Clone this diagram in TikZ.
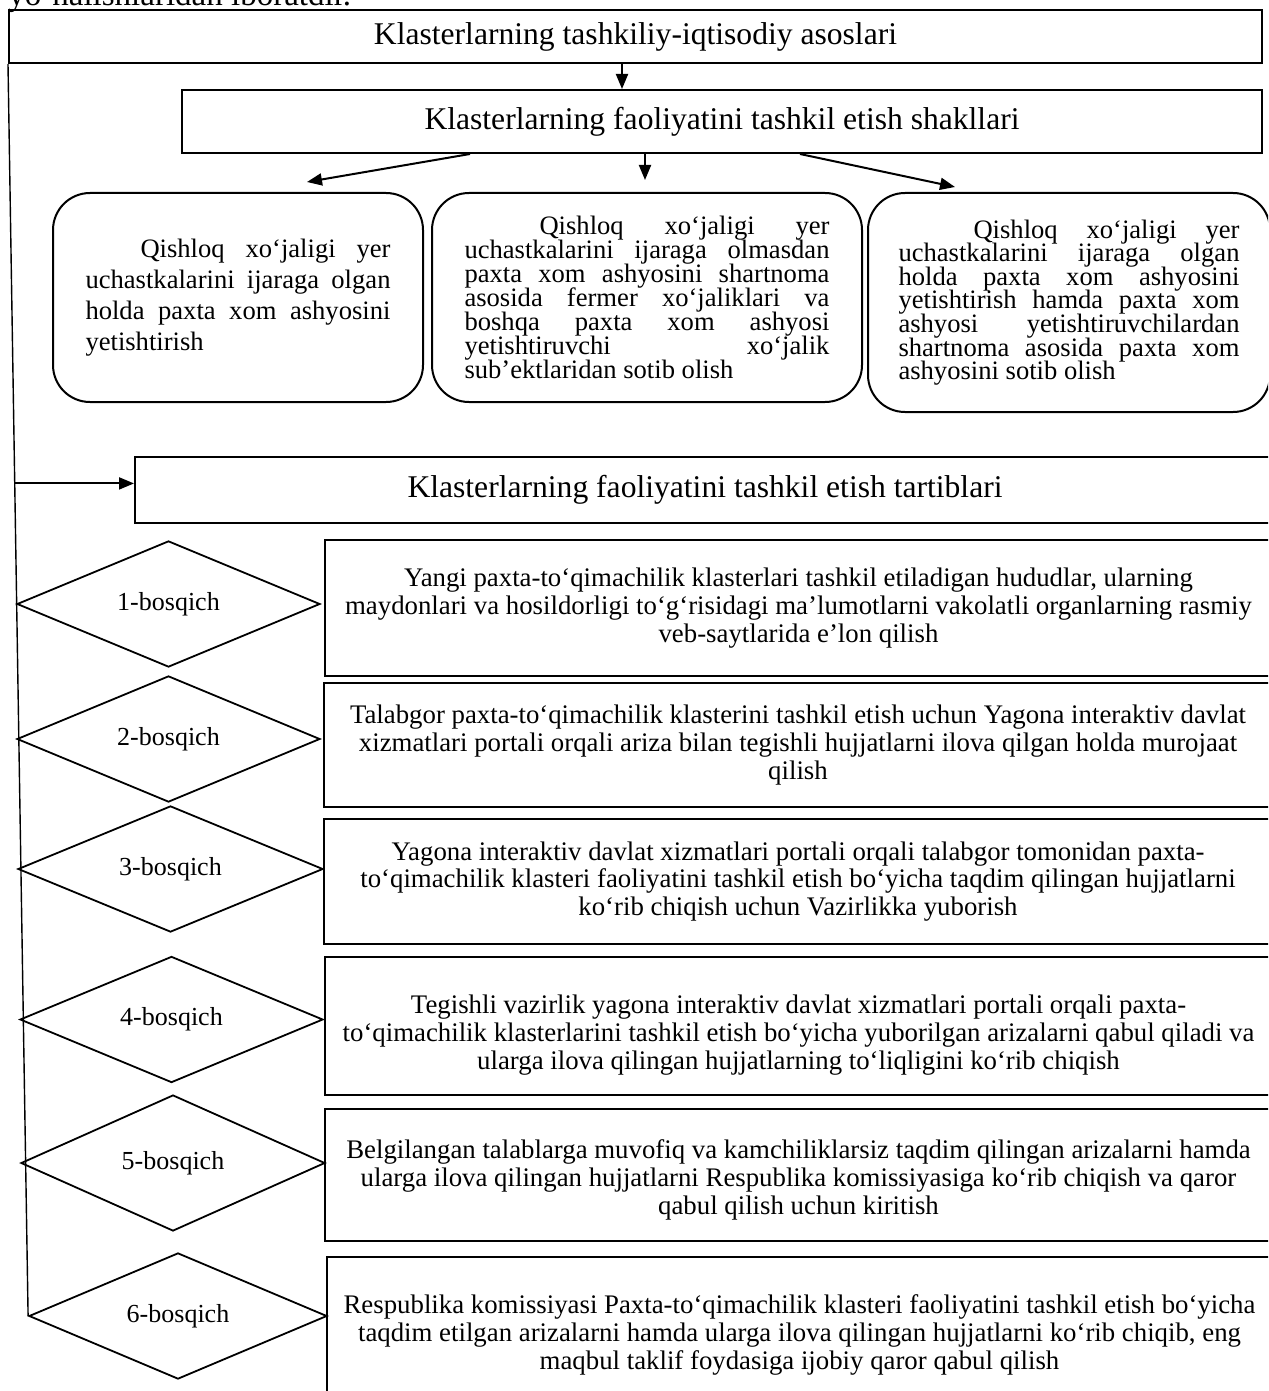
\documentclass[tikz,border=0pt]{standalone}
\usepackage{fontspec}
\setmainfont{Liberation Serif}
\usetikzlibrary{shapes.geometric,arrows.meta,calc}
\newcommand{\JLine}[2]{\makebox[#1][s]{#2}}
\newcommand{\LLine}[2]{\makebox[#1][l]{#2}}
\setlength{\lineskiplimit}{-20pt}
\begin{document}
\begin{tikzpicture}[x=0.5pt,y=-0.5pt,
  bx/.style={draw, line width=1pt, inner sep=0pt},
  hdr/.style={font=\fontsize{15.8}{18}\selectfont},
  steptext/.style={align=center, inner sep=0pt, font=\fontsize{13.4}{13.8}\selectfont},
  stepbox/.style={bx, steptext},
  rbx/.style={bx, rounded corners=18.5pt, align=left},
  dia/.style={draw, shape=diamond, line width=0.9pt, inner sep=0pt, font=\fontsize{13}{15}\selectfont},
  arrw/.style={line width=1pt, -{Triangle[length=7.5pt,width=6pt]}},
  spine/.style={line width=0.7pt}]
\useasboundingbox (0,0) rectangle (1268,1391);
\clip (0,0) rectangle (1268,1391);

\node[anchor=base west, inner sep=0pt, font=\fontsize{16.5}{18}\selectfont] (lead) at (8,6) {yo‘nalishlaridan iboratdir.};

\node[bx, hdr, minimum width=626.5pt, minimum height=26.5pt] (top) at (635.5,36.5) {Klasterlarning tashkiliy-iqtisodiy asoslari};
\node[bx, hdr, minimum width=540pt, minimum height=31.5pt] (shakl) at (722,121.5) {Klasterlarning faoliyatini tashkil etish shakllari};

\node[rbx, minimum width=185pt, minimum height=104.5pt, font=\fontsize{13.3}{15.5}\selectfont] (r1) at (238,297.5) {%
\JLine{152.5pt}{\hspace*{27.5pt}Qishloq xo‘jaligi yer}\\
\JLine{152.5pt}{uchastkalarini ijaraga olgan}\\
\JLine{152.5pt}{holda paxta xom ashyosini}\\
\LLine{152.5pt}{yetishtirish}};

\node[rbx, minimum width=215pt, minimum height=104.5pt, font=\fontsize{13.3}{12}\selectfont] (r2) at (647,297.5) {%
\JLine{182.5pt}{\hspace*{37.5pt}Qishloq xo‘jaligi yer}\\
\JLine{182.5pt}{uchastkalarini ijaraga olmasdan}\\
\JLine{182.5pt}{paxta xom ashyosini shartnoma}\\
\JLine{182.5pt}{asosida fermer xo‘jaliklari va}\\
\JLine{182.5pt}{boshqa paxta xom ashyosi}\\
\JLine{182.5pt}{yetishtiruvchi xo‘jalik}\\
\LLine{182.5pt}{sub’ektlaridan sotib olish}};

\node[rbx, minimum width=201pt, minimum height=109.5pt, font=\fontsize{13.3}{11.8}\selectfont] (r3) at (1069,302.5) {%
\JLine{170.5pt}{\hspace*{37.5pt}Qishloq xo‘jaligi yer}\\
\JLine{170.5pt}{uchastkalarini ijaraga olgan}\\
\JLine{170.5pt}{holda paxta xom ashyosini}\\
\JLine{170.5pt}{yetishtirish hamda paxta xom}\\
\JLine{170.5pt}{ashyosi yetishtiruvchilardan}\\
\JLine{170.5pt}{shartnoma asosida paxta xom}\\
\LLine{170.5pt}{ashyosini sotib olish}};

\node[bx, hdr, minimum width=570pt, minimum height=33pt] (tart) at (705,490) {Klasterlarning faoliyatini tashkil etish tartiblari};

\node[stepbox, minimum width=473.5pt, minimum height=68pt] (s1) at (798.5,608) {Yangi paxta-to‘qimachilik klasterlari tashkil etiladigan hududlar, ularning\\maydonlari va hosildorligi to‘g‘risidagi ma’lumotlarni vakolatli organlarning rasmiy\\veb-saytlarida e’lon qilish};
\node[stepbox, minimum width=474pt, minimum height=62pt] (s2) at (798,745) {Talabgor paxta-to‘qimachilik klasterini tashkil etish uchun Yagona interaktiv davlat\\xizmatlari portali orqali ariza bilan tegishli hujjatlarni ilova qilgan holda murojaat\\qilish};
\node[stepbox, minimum width=474pt, minimum height=62.5pt] (s3) at (798,881.5) {Yagona interaktiv davlat xizmatlari portali orqali talabgor tomonidan paxta-\\to‘qimachilik klasteri faoliyatini tashkil etish bo‘yicha taqdim qilingan hujjatlarni\\ko‘rib chiqish uchun Vazirlikka yuborish};
\node[bx, minimum width=473.5pt, minimum height=69pt] (s4) at (798.5,1026) {};
\node[steptext] (s4t) at ($(s4.center)+(0,9)$) {Tegishli vazirlik yagona interaktiv davlat xizmatlari portali orqali paxta-\\to‘qimachilik klasterlarini tashkil etish bo‘yicha yuborilgan arizalarni qabul qiladi va\\ularga ilova qilingan hujjatlarning to‘liqligini ko‘rib chiqish};
\node[bx, minimum width=473.5pt, minimum height=66pt] (s5) at (798.5,1175) {};
\node[steptext] (s5t) at ($(s5.center)+(0,5)$) {Belgilangan talablarga muvofiq va kamchiliklarsiz taqdim qilingan arizalarni hamda\\ularga ilova qilingan hujjatlarni Respublika komissiyasiga ko‘rib chiqish va qaror\\qabul qilish uchun kiritish};
\node[stepbox, minimum width=472.5pt, minimum height=78pt] (s6) at (799.5,1335) {Respublika komissiyasi Paxta-to‘qimachilik klasteri faoliyatini tashkil etish bo‘yicha\\taqdim etilgan arizalarni hamda ularga ilova qilingan hujjatlarni ko‘rib chiqib, eng\\maqbul taklif foydasiga ijobiy qaror qabul qilish};

\node[dia, minimum width=151.5pt, minimum height=62pt] (d1) at (168.5,604) {1-bosqich};
\node[dia, minimum width=151.5pt, minimum height=62pt] (d2) at (168.5,739) {2-bosqich};
\node[dia, minimum width=152.5pt, minimum height=62pt] (d3) at (170.5,869) {3-bosqich};
\node[dia, minimum width=151.5pt, minimum height=59.5pt] (d4) at (171.5,1019.5) {4-bosqich};
\node[dia, minimum width=152pt, minimum height=68pt] (d5) at (173,1163) {5-bosqich};
\node[dia, minimum width=149pt, minimum height=57pt] (d6) at (178,1316) {6-bosqich};

\draw[arrw] ([xshift=-6.75pt]top.south) -- ([xshift=-6.75pt]top.south |- shakl.north);
\draw[arrw] ([xshift=-126pt]shakl.south) -- ([xshift=34.5pt,yshift=5pt]r1.north);
\draw[arrw] ([xshift=-38.5pt]shakl.south) -- ([xshift=-1pt,yshift=6pt]r2.north);
\draw[arrw] ([xshift=39pt]shakl.south) -- ([xshift=-57pt,yshift=2.5pt]r3.north);
\draw[spine] (top.south west) -- (d6.west);
\coordinate (lp) at ($(top.south west)!0.335!(d6.west)$);
\draw[arrw] (lp) -- (lp -| tart.west);
\end{tikzpicture}
\end{document}
